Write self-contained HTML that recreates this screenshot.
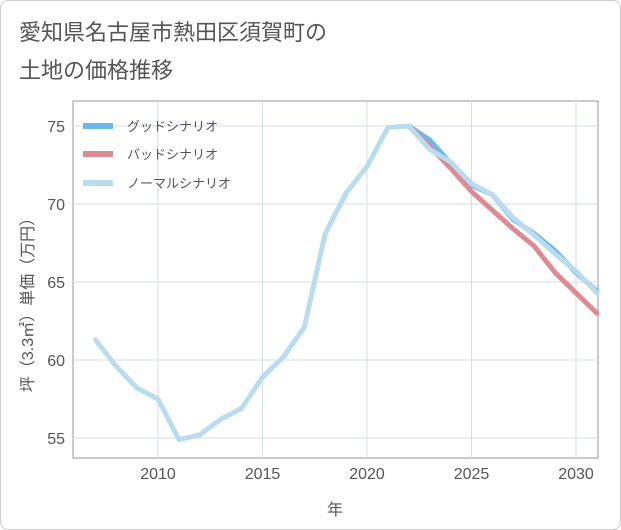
<!DOCTYPE html>
<html><head><meta charset="utf-8"><style>
body{margin:0;background:#fff;font-family:"Liberation Sans","Noto Sans CJK JP",sans-serif;}
#wrap{position:relative;width:619px;height:528px;border:1px solid #ccc;border-radius:8px;overflow:hidden;}
.t{position:absolute;left:18px;font-size:22px;color:#555;}
</style></head><body>
<div id="wrap">
<div class="t" style="top:14px">愛知県名古屋市熱田区須賀町の</div>
<div class="t" style="top:52px">土地の価格推移</div>
<svg id="c" width="621" height="530" style="position:absolute;left:0;top:0"></svg>
</div>
<script>
const years=[2007,2008,2009,2010,2011,2012,2013,2014,2015,2016,2017,2018,2019,2020,2021,2022,2023,2024,2025,2026,2027,2028,2029,2030,2031];
const normal=[61.3,59.6,58.2,57.5,54.9,55.2,56.2,56.9,58.9,60.2,62.1,68.1,70.7,72.4,74.9,75.0,73.5,72.7,71.3,70.6,69.1,68.0,66.8,65.7,64.3];
const fYears=[2022,2023,2024,2025,2026,2027,2028,2029,2030,2031];
const good=[75.0,74.1,72.6,71.2,70.6,69.0,68.1,67.0,65.6,64.4];
const bad=[75.0,73.7,72.3,70.8,69.6,68.4,67.3,65.6,64.3,63.0];
const xTicks=[2010,2015,2020,2025,2030];
const yTicks=[55,60,65,70,75];
const X=y=>157+(y-2010)*20.9, Y=v=>437-(v-55)*15.6;
const L=72,R=597,T=100,B=457;
const s=document.getElementById('c');const NS='http://www.w3.org/2000/svg';
function el(t,a,p){const e=document.createElementNS(NS,t);for(const k in a)e.setAttribute(k,a[k]);(p||s).appendChild(e);return e;}
const frame=el('rect',{x:L,y:T,width:R-L,height:B-T,fill:'none',stroke:'#999'});


xTicks.forEach(v=>{const g=el('line',{x1:X(v),x2:X(v),y1:T,y2:B,stroke:'#d5dde5'});


const t=el('text',{x:X(v),y:478,'text-anchor':'middle','font-size':16,fill:'#555'});t.textContent=v;

});
yTicks.forEach(v=>{const g=el('line',{x1:L,x2:R,y1:Y(v),y2:Y(v),stroke:'#d5dde5'});


const t=el('text',{x:64,y:Y(v)+6,'text-anchor':'end','font-size':16,fill:'#555'});t.textContent=v;

});
const xt=el('text',{x:334,y:514,'text-anchor':'middle','font-size':16,fill:'#555'});xt.textContent='年';


const yt=el('text',{x:0,y:0,'text-anchor':'middle','font-size':16,fill:'#555',transform:'translate(32,300) rotate(-90)'});yt.textContent='坪（3.3㎡）単価（万円）';


function line(xs,vs,c,n){const p=el('polyline',{points:xs.map((y,i)=>X(y)+','+Y(vs[i])).join(' '),fill:'none',stroke:c,'stroke-width':5,'stroke-linejoin':'round','stroke-linecap':'round'});

}
line(fYears,good,'#6bb8ef','good-scenario-line');
line(fYears,bad,'#de8a92','bad-scenario-line');
line(years,normal,'#b9dcee','normal-scenario-line');
[['グッドシナリオ','#6bb8ef',125],['バッドシナリオ','#de8a92',153],['ノーマルシナリオ','#b9dcee',182]].forEach(([n,c,y])=>{
const r=el('rect',{x:82,y:y-3,width:30,height:6,fill:c});


const t=el('text',{x:126,y:y+5,'font-size':13,fill:'#555'});t.textContent=n;

});
</script></body></html>
